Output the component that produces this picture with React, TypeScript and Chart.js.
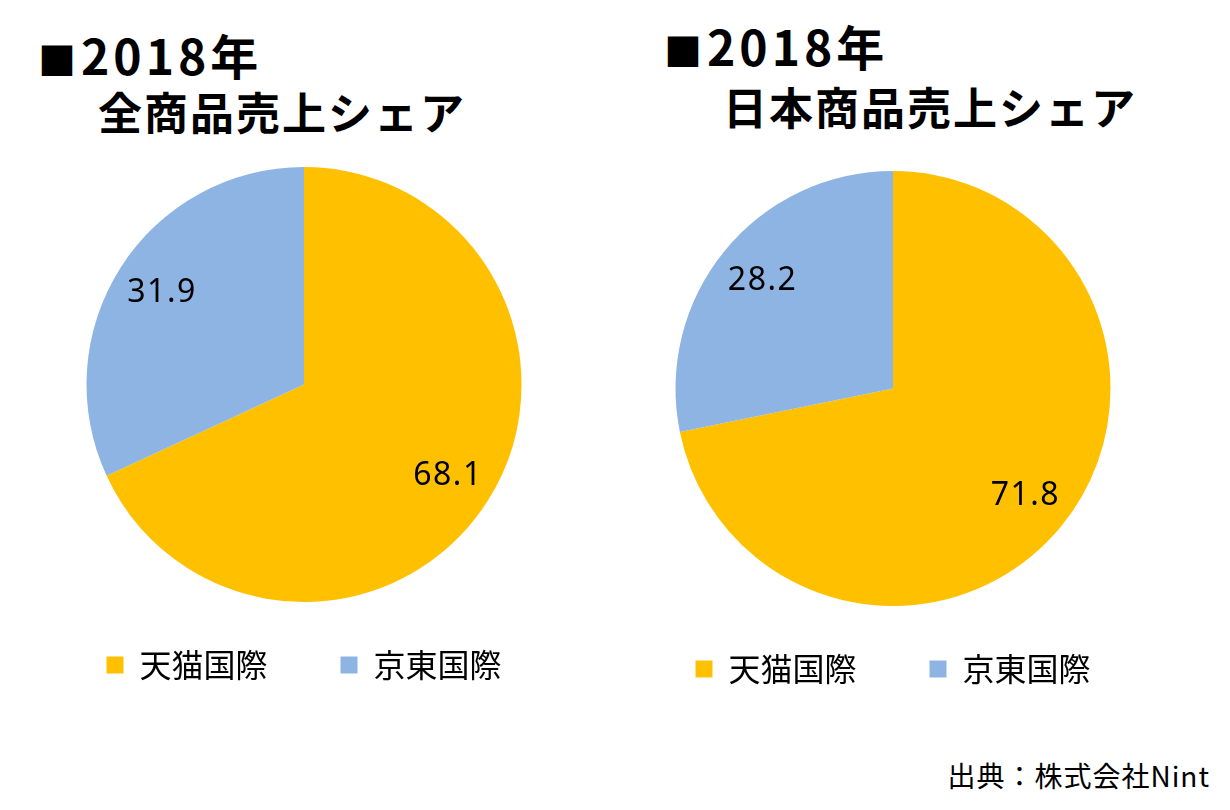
import React, { useEffect, useRef } from "react";
import { Chart, registerables } from "chart.js";

Chart.register(...registerables);

// ---- data ----
const categories = ["天猫国際", "京東国際"];
const allGoodsShare = [68.1, 31.9];
const japanGoodsShare = [71.8, 28.2];
const sliceColors = ["#FFC000", "#8EB4E3"];
const yearMark = "■";
const yearText = "2018年";
const leftSubtitle = "全商品売上シェア";
const rightSubtitle = "日本商品売上シェア";
const sourceText = "出典：株式会社Nint";

const valueLabelPlugin = {
  id: "valueLabels",
  afterDatasetsDraw(chart: any) {
    const ctx = chart.ctx;
    const meta = chart.getDatasetMeta(0);
    const data = chart.data.datasets[0].data as number[];
    ctx.save();
    ctx.font = "32px 'Noto Sans', sans-serif";
    (ctx as any).letterSpacing = "1.5px";
    ctx.fillStyle = "#000";
    ctx.textAlign = "center";
    ctx.textBaseline = "middle";
    meta.data.forEach((arc: any, i: number) => {
      const p = arc.getProps(["x", "y", "startAngle", "endAngle", "outerRadius"], true);
      const mid = (p.startAngle + p.endAngle) / 2;
      const r = p.outerRadius * 0.78;
      ctx.fillText(data[i].toFixed(1), p.x + Math.cos(mid) * r + 1, p.y + Math.sin(mid) * r);
    });
    ctx.restore();
  },
};

const CW = 560;
const CH = 524;

function PieChart({ values, left, top }: { values: number[]; left: number; top: number }) {
  const ref = useRef<HTMLCanvasElement | null>(null);
  useEffect(() => {
    if (!ref.current) return;
    const chart = new Chart(ref.current, {
      type: "pie",
      data: {
        labels: categories,
        datasets: [
          {
            data: values,
            backgroundColor: sliceColors,
            borderWidth: 0,
            hoverBorderWidth: 0,
            hoverOffset: 0,
          },
        ],
      },
      options: {
        animation: false,
        responsive: false,
        maintainAspectRatio: false,
        layout: { padding: 0 },
        events: [],
        plugins: {
          tooltip: { enabled: false },
          legend: {
            position: "bottom",
            labels: {
              boxWidth: 17,
              boxHeight: 17,
              padding: 73,
              color: "#000",
              font: { family: "'Noto Sans CJK JP', sans-serif", size: 32 },
            },
            title: {
              display: true,
              text: "",
              font: { size: 12, lineHeight: 1.2 },
              padding: { top: -40.4, bottom: 0 },
            },
          },
        },
      } as any,
      plugins: [valueLabelPlugin],
    });
    return () => chart.destroy();
  }, []);
  return (
    <canvas
      ref={ref}
      width={CW}
      height={CH}
      style={{ position: "absolute", left, top, width: CW, height: CH }}
    />
  );
}

const titleBase: React.CSSProperties = {
  position: "absolute",
  fontFamily: "'Noto Sans CJK JP', sans-serif",
  fontWeight: 700,
  whiteSpace: "nowrap",
  color: "#000",
};

function YearTitle({ left, top }: { left: number; top: number }) {
  return (
    <div style={{ ...titleBase, left, top, fontSize: 48, lineHeight: "48px" }}>
      <span style={{ fontSize: 38, letterSpacing: 5 }}>{yearMark}</span>
      <span style={{ letterSpacing: 4 }}>{yearText}</span>
    </div>
  );
}

export default function App() {
  return (
    <div
      style={{
        position: "absolute",
        left: 0,
        top: 0,
        width: 1230,
        height: 810,
        background: "#fff",
        overflow: "hidden",
      }}
    >
      <YearTitle left={38} top={30} />
      <div style={{ ...titleBase, left: 98, top: 89, fontSize: 44, lineHeight: "44px", letterSpacing: 2 }}>
        {leftSubtitle}
      </div>
      <YearTitle left={664} top={21} />
      <div style={{ ...titleBase, left: 723, top: 84, fontSize: 44, lineHeight: "44px", letterSpacing: 2 }}>
        {rightSubtitle}
      </div>

      <PieChart values={allGoodsShare} left={24} top={167} />
      <PieChart values={japanGoodsShare} left={613} top={171} />

      <div
        style={{
          position: "absolute",
          right: 20,
          top: 761,
          fontFamily: "'Noto Sans CJK JP', sans-serif",
          fontSize: 28,
          lineHeight: "28px",
          letterSpacing: 1,
          whiteSpace: "nowrap",
          color: "#000",
        }}
      >
        {sourceText}
      </div>
    </div>
  );
}
